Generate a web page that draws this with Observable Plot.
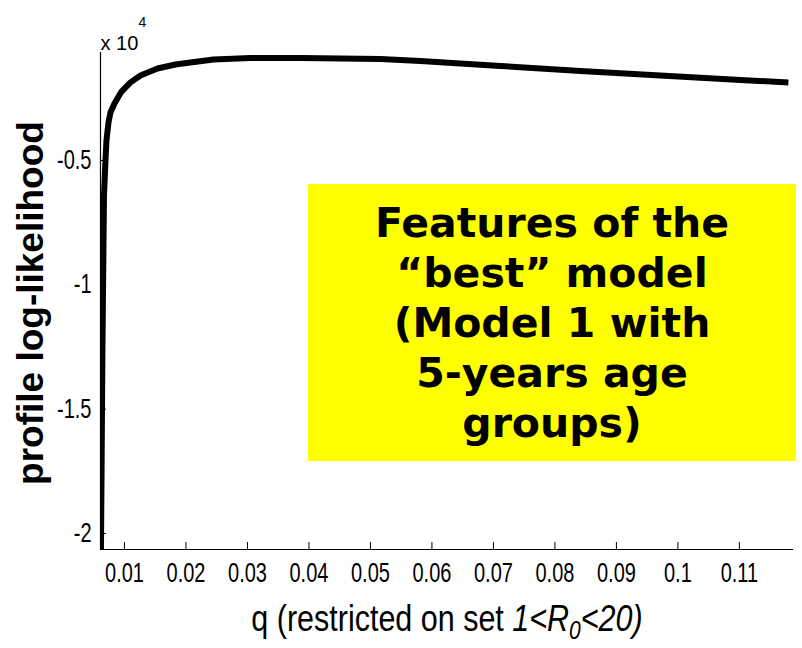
<!DOCTYPE html>
<html>
<head>
<meta charset="utf-8">
<script src="https://cdn.jsdelivr.net/npm/d3@7"></script>
<script src="https://cdn.jsdelivr.net/npm/@observablehq/plot@0.6"></script>
<style>
  body { margin: 0; background: #fff; }
  #wrap { position: relative; width: 802px; height: 648px; overflow: hidden; }
  #note {
    position: absolute; left: 308px; top: 184px; width: 488px; height: 277px;
    box-sizing: border-box; padding-top: 14px;
    background: #ffff00; color: #000;
    font-family: "DejaVu Sans", Verdana, sans-serif; font-weight: bold;
    font-size: 41px; line-height: 50px; text-align: center;
  }
</style>
</head>
<body>
<div id="wrap">
  <div id="chart"></div>
  <div id="note">Features of the<br>“best” model<br>(Model 1 with<br>5-years age<br>groups)</div>
</div>
<script>
// Profile log-likelihood against q (values in raw units; axis shows them ×10^4)
const qValues = [
  0.00617, 0.00626, 0.00642, 0.006667, 0.00691, 0.00707, 0.00740, 0.00772,
  0.00837, 0.00951, 0.01098, 0.01260, 0.01537, 0.01829, 0.02073, 0.02447,
  0.03049, 0.03862, 0.05163, 0.05813, 0.06463, 0.07114, 0.07764, 0.08415,
  0.09065, 0.09715, 0.10366, 0.11016, 0.11797
];
const logLik = [
  -20800, -17950, -12440, -6410, -5000, -4200, -3470, -3070,
  -2710, -2230, -1860, -1580, -1300, -1140, -1060, -940,
  -880, -880, -920, -1000, -1100, -1200, -1300, -1400,
  -1490, -1580, -1675, -1765, -1860
];

// Axis extents and ticks
const xDomain = [0.0061, 0.1188];
const yDomain = [-20643, -658];
const xTicks = [0.01, 0.02, 0.03, 0.04, 0.05, 0.06, 0.07, 0.08, 0.09, 0.1, 0.11];
const yTicks = [-20000, -15000, -10000, -5000];
const yTickLabels = ["-2", "-1.5", "-1", "-0.5"];

// Labels
const yLabel = "profile log-likelihood";
const xLabelParts = ["q (restricted on set ", "1<R", "0", "<20)"];
const scaleNote = ["x 10", "4"];

const data = qValues.map((q, i) => ({q, ll: logLik[i]}));

const W = 802, H = 648;
const mL = 100, mR = 9, mT = 52, mB = 99;
const frameW = W - mL - mR, frameH = H - mT - mB;

// tall, narrow tick lettering
const tickStretch = 1.35;

const chart = Plot.plot({
  width: W,
  height: H,
  marginLeft: mL,
  marginRight: mR,
  marginTop: mT,
  marginBottom: mB,
  style: {fontFamily: "'Liberation Sans', Arial, sans-serif", fontSize: "20px", color: "#000", background: "#fff"},
  x: {domain: xDomain},
  y: {domain: yDomain},
  marks: [
    Plot.axisY(yTicks, {
      tickSize: 0, tickPadding: 9, fontSize: 20,
      tickFormat: d => yTickLabels[yTicks.indexOf(d)], label: null
    }),
    Plot.axisX(xTicks, {
      tickSize: 0, tickPadding: 13, fontSize: 20,
      tickFormat: d => String(d), label: null
    }),
    // inward ticks
    Plot.tickY(yTicks, {y: d => d, stroke: "#000", insetRight: frameW - 6}),
    Plot.tickX(xTicks, {x: d => d, stroke: "#000", insetTop: frameH - 7}),
    // axis lines
    Plot.ruleX([xDomain[0]], {stroke: "#000", strokeWidth: 1.2}),
    Plot.ruleY([yDomain[0]], {stroke: "#000", strokeWidth: 1.2}),
    // the curve
    Plot.line(data, {
      x: "q", y: "ll", stroke: "#000", strokeWidth: 6,
      strokeLinejoin: "round", strokeLinecap: "butt", clip: true
    }),
    // exponent note above the y axis
    Plot.text([scaleNote[0]], {
      frameAnchor: "top-left", textAnchor: "start", dy: -17, fontSize: 20
    }),
    Plot.text([scaleNote[1]], {
      frameAnchor: "top-left", textAnchor: "start", dx: 38, dy: -35, fontSize: 14
    }),
    // axis titles
    Plot.text([yLabel], {
      frameAnchor: "left", rotate: -90, textAnchor: "middle", dx: -69.5, dy: 2,
      fontSize: 37, fontWeight: "bold"
    }),
    Plot.text([xLabelParts.join("")], {
      frameAnchor: "bottom", textAnchor: "middle", dy: 81,
      fontSize: 30.5, ariaDescription: "x-label"
    })
  ]
});

document.getElementById("chart").appendChild(chart);

// Stretch tick lettering vertically about each label's anchor
d3.select(chart)
  .selectAll('g[aria-label="y-axis tick label"] text, g[aria-label="x-axis tick label"] text')
  .each(function () {
    const t = this.getAttribute("transform") || "";
    this.setAttribute("transform", `${t} scale(1,${tickStretch})`);
  });

// Rebuild the x title with the italic, subscripted part; anchor on its baseline
const xt = d3.select(chart).select('g[aria-description="x-label"] text');
xt.text(null).attr("dy", null);
xt.attr("transform", `${xt.attr("transform") || ""} scale(1,1.2)`);
xt.append("tspan").text(xLabelParts[0]);
xt.append("tspan").attr("font-style", "italic").text(xLabelParts[1]);
xt.append("tspan").attr("font-style", "italic").attr("font-size", "21px").attr("dy", "7").text(xLabelParts[2]);
xt.append("tspan").attr("font-style", "italic").attr("dy", "-7").text(xLabelParts[3]);
</script>
</body>
</html>
